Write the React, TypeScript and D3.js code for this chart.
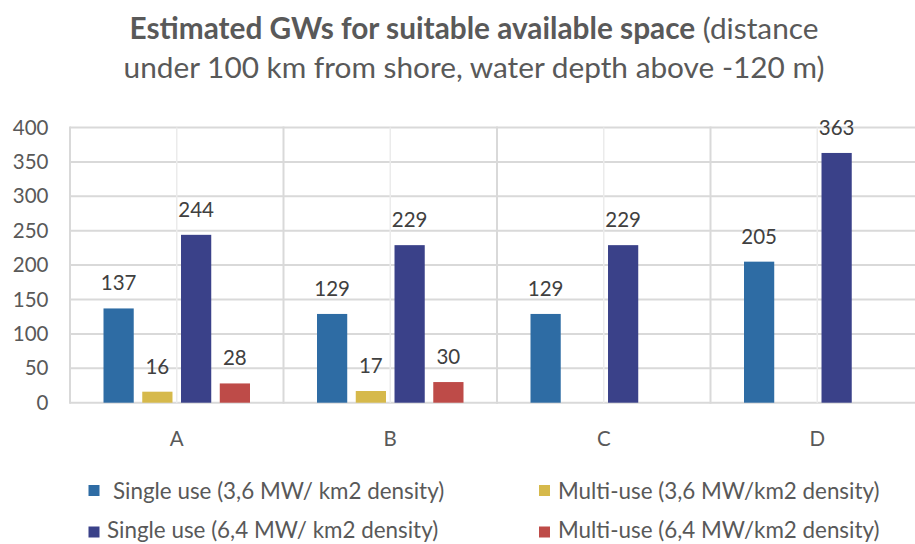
import React from "react";
import * as d3 from "d3";

const categories = ["A", "B", "C", "D"];
const seriesNames = [
  "Single use (3,6 MW/ km2 density)",
  "Multi-use (3,6 MW/km2 density)",
  "Single use (6,4 MW/ km2 density)",
  "Multi-use (6,4 MW/km2 density)",
];
const singleUse36: (number | null)[] = [137, 129, 129, 205];
const multiUse36: (number | null)[] = [16, 17, null, null];
const singleUse64: (number | null)[] = [244, 229, 229, 363];
const multiUse64: (number | null)[] = [28, 30, null, null];
const seriesValues = [singleUse36, multiUse36, singleUse64, multiUse64];
const seriesColors = ["#2E6CA4", "#D6B94B", "#3A4189", "#BE4B48"];
const yTicks = [0, 50, 100, 150, 200, 250, 300, 350, 400];

const W = 915;
const H = 544;
const FONT = "Lato, 'Open Sans', sans-serif";

export default function App() {
  const plotLeft = 70;
  const plotRight = 924;
  const plotTop = 127.5;
  const plotBottom = 402.7;

  const x0 = d3
    .scaleBand<string>()
    .domain(categories)
    .range([plotLeft, plotRight])
    .paddingInner(0)
    .paddingOuter(0);
  const cw = x0.bandwidth();
  const groupPad = 33.5;
  const x1 = d3
    .scaleBand<number>()
    .domain([0, 1, 2, 3])
    .range([groupPad, cw - groupPad])
    .paddingInner(0.22)
    .paddingOuter(0);
  const y = d3.scaleLinear().domain([0, 400]).range([plotBottom, plotTop]);

  const legendItems = [
    { i: 0, sx: 88.5, sy: 485, tx: 113, ty: 491 },
    { i: 1, sx: 539, sy: 485, tx: 558, ty: 491 },
    { i: 2, sx: 88.5, sy: 526.5, tx: 107, ty: 530 },
    { i: 3, sx: 539, sy: 526.5, tx: 558, ty: 530 },
  ];

  return (
    <svg
      width={W}
      height={H}
      style={{ position: "absolute", left: 0, top: 0, background: "#fff" }}
      fontFamily={FONT}
    >
      <rect x={0} y={0} width={W} height={H} fill="#fff" />
      {/* Title */}
      <text x={474} y={38.5} textAnchor="middle" fontSize={29.8} fill="#595959">
        <tspan fontWeight="bold">Estimated GWs for suitable available space</tspan>
        <tspan> (distance</tspan>
      </text>
      <text x={474} y={77.5} textAnchor="middle" fontSize={29.8} fill="#595959">
        under 100 km from shore, water depth above -120 m)
      </text>

      {/* horizontal gridlines */}
      {yTicks.map((t) => (
        <line
          key={"h" + t}
          x1={plotLeft}
          x2={plotRight}
          y1={y(t)}
          y2={y(t)}
          stroke="#D9D9D9"
          strokeWidth={2}
        />
      ))}
      {/* minor vertical gridlines at category centres */}
      {categories.map((c) => (
        <line
          key={"mv" + c}
          x1={(x0(c) as number) + cw / 2}
          x2={(x0(c) as number) + cw / 2}
          y1={plotTop}
          y2={plotBottom}
          stroke="#EBEBEB"
          strokeWidth={1.5}
        />
      ))}
      {/* major vertical gridlines at category boundaries */}
      {[...categories.map((c) => x0(c) as number), plotRight].map((xv, k) => (
        <line
          key={"v" + k}
          x1={xv}
          x2={xv}
          y1={plotTop - 1}
          y2={plotBottom + 1}
          stroke="#D9D9D9"
          strokeWidth={2}
        />
      ))}

      {/* y tick labels */}
      {yTicks.map((t) => (
        <text
          key={"yl" + t}
          x={48.5}
          y={y(t)}
          dy="0.35em"
          textAnchor="end"
          fontSize={20.5}
          fill="#595959"
        >
          {t}
        </text>
      ))}

      {/* bars */}
      {categories.map((c, ci) =>
        seriesValues.map((vals, si) => {
          const v = vals[ci];
          if (v == null) return null;
          const bx = (x0(c) as number) + (x1(si) as number);
          return (
            <g key={c + si}>
              <rect
                x={bx}
                y={y(v)}
                width={x1.bandwidth()}
                height={y(0) - y(v)}
                fill={seriesColors[si]}
              />
              <text
                x={bx + x1.bandwidth() / 2}
                y={y(v) - 18}
                textAnchor="middle"
                fontSize={20.5}
                fill="#404040"
              >
                {v}
              </text>
            </g>
          );
        })
      )}

      {/* x labels */}
      {categories.map((c) => (
        <text
          key={"xl" + c}
          x={(x0(c) as number) + cw / 2}
          y={439}
          dy="0.35em"
          textAnchor="middle"
          fontSize={20.5}
          fill="#595959"
        >
          {c}
        </text>
      ))}

      {/* legend */}
      {legendItems.map((it) => (
        <g key={"lg" + it.i}>
          <rect x={it.sx} y={it.sy} width={11} height={11} fill={seriesColors[it.i]} />
          <text
            x={it.tx}
            y={it.ty}
            dy="0.35em"
            fontSize={22.4}
            fill="#595959"
          >
            {seriesNames[it.i]}
          </text>
        </g>
      ))}
    </svg>
  );
}
